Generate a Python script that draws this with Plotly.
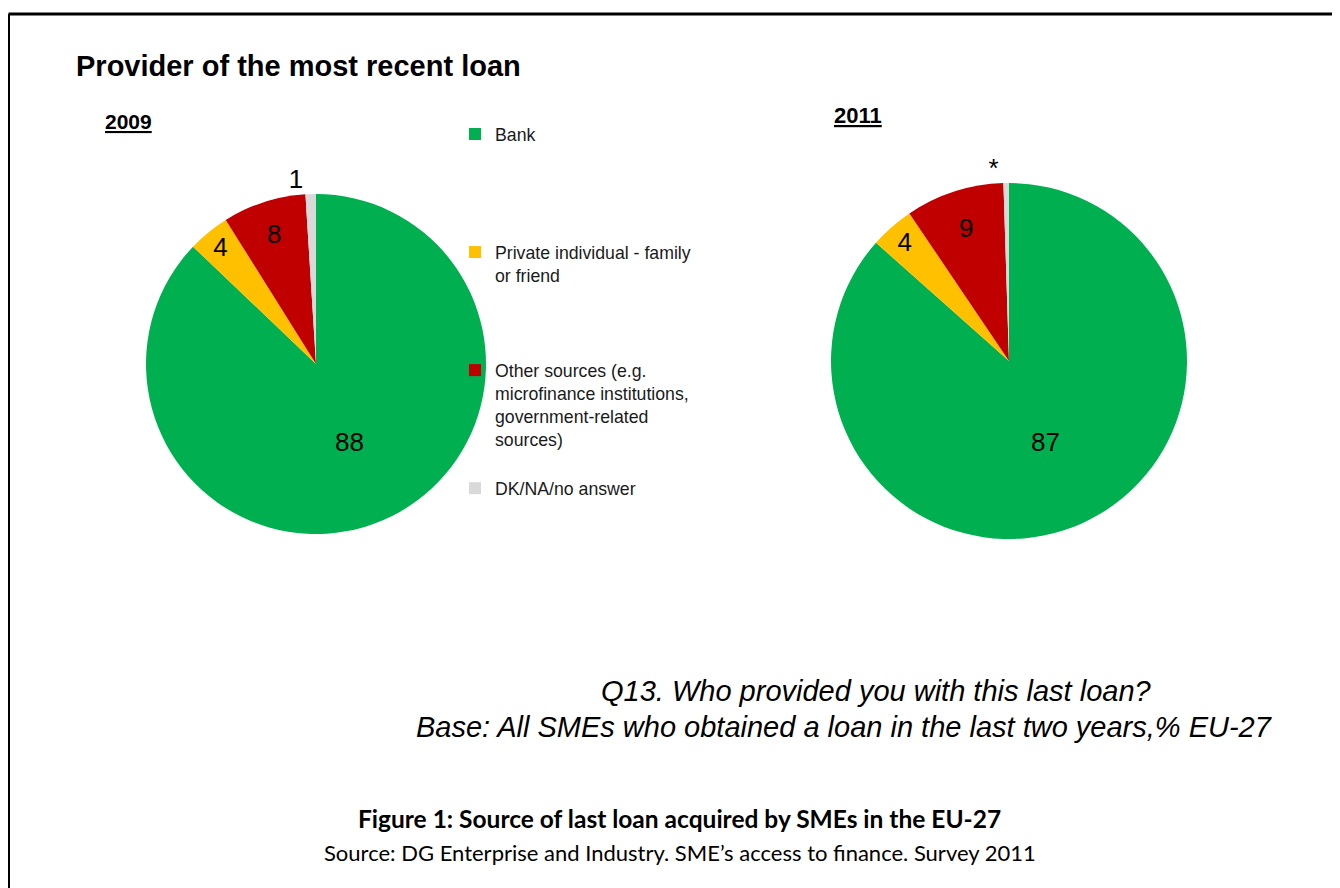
import plotly.graph_objects as go

# ---- data ----
categories = [
    "Bank",
    "Private individual - family<br>or friend",
    "Other sources (e.g.<br>microfinance institutions,<br>government-related<br>sources)",
    "DK/NA/no answer",
]
values_2009 = [88, 4, 8, 1]
labels_2009 = ["88", "4", "8", "1"]
values_2011 = [87, 4, 9, 0.5]
labels_2011 = ["87", "4", "9", "*"]
colors = ["#00B050", "#FFC000", "#C00000", "#D9D9D9"]

# page is shown with the browser's default 8px body margin
OFF = 8
W, H = 1340 - OFF, 888 - OFF
FONT = "Liberation Sans, Arial, sans-serif"

# pad legend labels to equal line count so items are evenly spaced
max_lines = 5
def pad(lbl):
    n = lbl.count("<br>") + 1
    return lbl + "<br> " * (max_lines - n)
legend_labels = [pad(c) for c in categories]


def px_x(v):  # v in page pixels
    return (v - OFF) / W


def px_y(v):
    return 1 - (v - OFF) / H


def domain(cx, cy, r):
    return dict(x=[px_x(cx - r), px_x(cx + r)], y=[px_y(cy + r), px_y(cy - r)])


fig = go.Figure()
for vals, txt, dom in [
    (values_2009, labels_2009, domain(316, 364, 170)),
    (values_2011, labels_2011, domain(1009, 361, 178)),
]:
    fig.add_trace(go.Pie(
        labels=legend_labels,
        values=vals,
        text=txt,
        textinfo="text",
        hoverinfo="label+value",
        sort=False,
        direction="clockwise",
        rotation=0,
        marker=dict(colors=colors, line=dict(width=0)),
        textposition=["inside", "inside", "inside", "outside"],
        insidetextorientation="horizontal",
        textfont=dict(family=FONT, size=26, color="black"),
        domain=dom,
        showlegend=True,
    ))

annotations = [
    dict(text="<b>Provider of the most recent loan</b>", x=px_x(74), y=px_y(66),
         xanchor="left", yanchor="middle", font=dict(family=FONT, size=29, color="black")),
    dict(text="<b><u>2009</u></b>", x=px_x(103), y=px_y(122), xanchor="left", yanchor="middle",
         font=dict(family=FONT, size=21, color="black")),
    dict(text="<b><u>2011</u></b>", x=px_x(832), y=px_y(115), xanchor="left", yanchor="middle",
         font=dict(family=FONT, size=22, color="black")),
    dict(text="<i>Q13. Who provided you with this last loan?</i>", x=px_x(599), y=px_y(691),
         xanchor="left", yanchor="middle", font=dict(family=FONT, size=29, color="black")),
    dict(text="<i>Base: All SMEs who obtained a loan in the last two years,% EU-27</i>", x=px_x(414),
         y=px_y(727), xanchor="left", yanchor="middle", font=dict(family=FONT, size=29, color="black")),
    dict(text="<b>Figure 1: Source of last loan acquired by SMEs in the EU-27</b>", x=px_x(680),
         y=px_y(818), xanchor="center", yanchor="middle",
         font=dict(family="Lato, sans-serif", size=24.5, color="black")),
    dict(text="Source: DG Enterprise and Industry. SME’s access to finance. Survey 2011", x=px_x(680),
         y=px_y(852), xanchor="center", yanchor="middle",
         font=dict(family="Lato, sans-serif", size=22, color="black")),
]
for a in annotations:
    a.update(xref="paper", yref="paper", showarrow=False)

shapes = [
    dict(type="line", xref="paper", yref="paper", x0=px_x(8.5), x1=1.01, y0=px_y(14), y1=px_y(14),
         line=dict(color="black", width=3)),
    dict(type="line", xref="paper", yref="paper", x0=px_x(8.5), x1=px_x(8.5), y0=px_y(14), y1=-0.01,
         line=dict(color="black", width=3)),
]

fig.update_layout(
    width=W, height=H,
    margin=dict(l=0, r=0, t=0, b=0),
    paper_bgcolor="white", plot_bgcolor="white",
    annotations=annotations,
    shapes=shapes,
    uniformtext=dict(minsize=26, mode="show"),
    legend=dict(x=px_x(455), y=px_y(116), xanchor="left", yanchor="top",
                font=dict(family=FONT, size=17.7, color="#1a1a1a"),
                valign="top", bgcolor="rgba(0,0,0,0)", traceorder="normal"),
)

fig.write_html("out.html")
